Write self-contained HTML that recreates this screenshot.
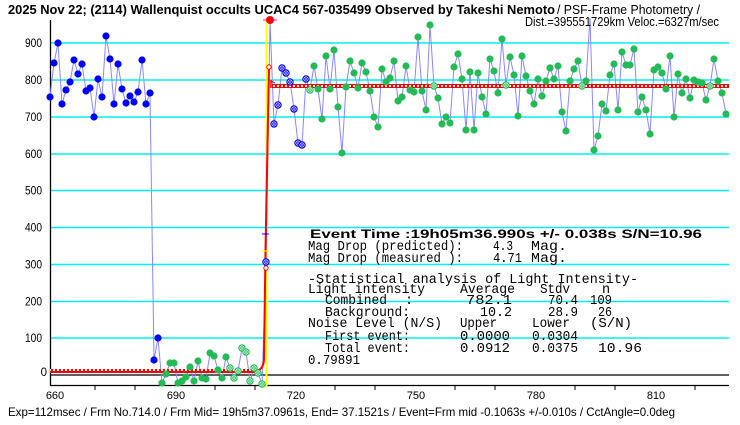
<!DOCTYPE html>
<html><head><meta charset="utf-8"><style>
html,body{margin:0;padding:0;background:#fff;}
svg{display:block;}
text{font-family:"Liberation Sans",sans-serif;fill:#000;}
.m text{font-family:"Liberation Mono",monospace;font-size:13.5px;}
</style></head><body>
<svg width="740" height="425" viewBox="0 0 740 425" xmlns="http://www.w3.org/2000/svg" xmlns:xlink="http://www.w3.org/1999/xlink">
<defs>
<pattern id="chk" x="0" y="0" width="4" height="4" patternUnits="userSpaceOnUse">
<rect width="4" height="4" fill="#ff0000"/>
<rect x="1" y="1" width="2" height="2" fill="#ffffff"/>
</pattern>
<g id="bf"><circle r="3.6" fill="#0000ff"/></g>
<g id="gf"><circle r="3.6" fill="#22bb55"/></g>
<g id="bh"><circle r="3.1" fill="#fff" stroke="#0000ff" stroke-width="1.2"/><circle r="1.3" fill="none" stroke="#0000ff" stroke-width="1"/></g>
<g id="gh"><circle r="3.1" fill="#fff" stroke="#22bb55" stroke-width="1.2"/><circle r="1.3" fill="none" stroke="#22bb55" stroke-width="1"/></g>
</defs>
<rect width="740" height="425" fill="#fff"/>

<!-- gridlines -->
<g stroke="#00f0f0" stroke-width="1.5">
<line x1="50" y1="43" x2="729" y2="43"/>
<line x1="50" y1="80" x2="729" y2="80"/>
<line x1="50" y1="117" x2="729" y2="117"/>
<line x1="50" y1="154" x2="729" y2="154"/>
<line x1="50" y1="190.5" x2="729" y2="190.5"/>
<line x1="50" y1="227.5" x2="729" y2="227.5"/>
<line x1="50" y1="264.5" x2="729" y2="264.5"/>
<line x1="50" y1="301.5" x2="729" y2="301.5"/>
<line x1="50" y1="338" x2="729" y2="338"/>
</g>

<!-- axes -->
<g stroke="#000" stroke-width="1.3">
<line x1="50.5" y1="20" x2="50.5" y2="385.5"/>
<line x1="50" y1="375" x2="729" y2="375"/>
<line x1="50" y1="385.5" x2="729" y2="385.5"/>
</g>
<g stroke="#000" stroke-width="1">
<line x1="95" y1="385" x2="95" y2="390"/><line x1="135" y1="385" x2="135" y2="390"/>
<line x1="215" y1="385" x2="215" y2="390"/><line x1="255" y1="385" x2="255" y2="390"/>
<line x1="335" y1="385" x2="335" y2="390"/><line x1="375" y1="385" x2="375" y2="390"/>
<line x1="455" y1="385" x2="455" y2="390"/><line x1="495" y1="385" x2="495" y2="390"/>
<line x1="575" y1="385" x2="575" y2="390"/><line x1="615" y1="385" x2="615" y2="390"/>
<line x1="695" y1="385" x2="695" y2="390"/>
</g>

<!-- y labels -->
<g font-size="11.5" text-anchor="end">
<text x="42" y="47" textLength="17" lengthAdjust="spacingAndGlyphs">900</text>
<text x="42" y="84" textLength="17" lengthAdjust="spacingAndGlyphs">800</text>
<text x="42" y="121" textLength="17" lengthAdjust="spacingAndGlyphs">700</text>
<text x="42" y="158" textLength="17" lengthAdjust="spacingAndGlyphs">600</text>
<text x="42" y="194.5" textLength="17" lengthAdjust="spacingAndGlyphs">500</text>
<text x="42" y="231.5" textLength="17" lengthAdjust="spacingAndGlyphs">400</text>
<text x="42" y="268.5" textLength="17" lengthAdjust="spacingAndGlyphs">300</text>
<text x="42" y="305.5" textLength="17" lengthAdjust="spacingAndGlyphs">200</text>
<text x="42" y="342" textLength="17" lengthAdjust="spacingAndGlyphs">100</text>
<text x="47" y="376">0</text>
</g>
<!-- x labels -->
<g font-size="11" text-anchor="middle">
<text x="55" y="399">660</text>
<text x="176" y="399">690</text>
<text x="296" y="399">720</text>
<text x="416" y="399">750</text>
<text x="536" y="399">780</text>
<text x="656" y="399">810</text>
</g>

<!-- text box -->
<text x="310" y="238" font-weight="bold" font-size="12" textLength="392" lengthAdjust="spacingAndGlyphs">Event Time :19h05m36.990s  +/- 0.038s  S/N=10.96</text>
<g class="m">
<text x="308" y="250" textLength="155" lengthAdjust="spacingAndGlyphs">Mag Drop (predicted):</text>
<text x="493" y="250" textLength="20" lengthAdjust="spacingAndGlyphs">4.3</text>
<text x="531" y="250" textLength="36" lengthAdjust="spacingAndGlyphs">Mag.</text>
<text x="308" y="262" textLength="155" lengthAdjust="spacingAndGlyphs">Mag Drop (measured ):</text>
<text x="493" y="262" textLength="29" lengthAdjust="spacingAndGlyphs">4.71</text>
<text x="531" y="262" textLength="36" lengthAdjust="spacingAndGlyphs">Mag.</text>
<text x="308" y="283" textLength="330" lengthAdjust="spacingAndGlyphs">-Statistical analysis of Light Intensity-</text>
<text x="308" y="293" textLength="117" lengthAdjust="spacingAndGlyphs">Light intensity</text>
<text x="460" y="293" textLength="55" lengthAdjust="spacingAndGlyphs">Average</text>
<text x="540" y="293" textLength="30" lengthAdjust="spacingAndGlyphs">Stdv</text>
<text x="602" y="293">n</text>
<text x="325" y="304" textLength="62" lengthAdjust="spacingAndGlyphs">Combined</text>
<text x="405" y="304">:</text>
<text x="466" y="304" textLength="46" lengthAdjust="spacingAndGlyphs">782.1</text>
<text x="548" y="304" textLength="30" lengthAdjust="spacingAndGlyphs">70.4</text>
<text x="590" y="304" textLength="22" lengthAdjust="spacingAndGlyphs">109</text>
<text x="325" y="316" textLength="85" lengthAdjust="spacingAndGlyphs">Background:</text>
<text x="480" y="316" textLength="32" lengthAdjust="spacingAndGlyphs">10.2</text>
<text x="548" y="316" textLength="30" lengthAdjust="spacingAndGlyphs">28.9</text>
<text x="598" y="316" textLength="14" lengthAdjust="spacingAndGlyphs">26</text>
<text x="308" y="327" textLength="134" lengthAdjust="spacingAndGlyphs">Noise Level (N/S)</text>
<text x="460" y="327" textLength="37" lengthAdjust="spacingAndGlyphs">Upper</text>
<text x="532" y="327" textLength="38" lengthAdjust="spacingAndGlyphs">Lower</text>
<text x="590" y="327" textLength="42" lengthAdjust="spacingAndGlyphs">(S/N)</text>
<text x="325" y="340" textLength="85" lengthAdjust="spacingAndGlyphs">First event:</text>
<text x="460" y="340" textLength="50" lengthAdjust="spacingAndGlyphs">0.0000</text>
<text x="532" y="340" textLength="46" lengthAdjust="spacingAndGlyphs">0.0304</text>
<text x="325" y="352" textLength="85" lengthAdjust="spacingAndGlyphs">Total event:</text>
<text x="460" y="352" textLength="50" lengthAdjust="spacingAndGlyphs">0.0912</text>
<text x="532" y="352" textLength="46" lengthAdjust="spacingAndGlyphs">0.0375</text>
<text x="598" y="352" textLength="44" lengthAdjust="spacingAndGlyphs">10.96</text>
<text x="308" y="364" textLength="52" lengthAdjust="spacingAndGlyphs">0.79891</text>
</g>

<!-- yellow event line -->
<line x1="266.5" y1="20" x2="266.5" y2="387" stroke="#ffff00" stroke-width="2"/>

<!-- data line -->
<polyline fill="none" stroke="#8888ff" stroke-width="1" points="50,97 54,63 58,43 62,104 66,90 70,82 74,60 78,74 82,64 86,91 90,88 94,117 98,79 102,97 106,36 110,59 114,104 118,64 122,89 126,103 130,96 134,102 138,92 142,60 146,104 150,93 154,360 158,338 162,383 166,374 170,363 174,363 178,383 182,381 186,377 190,367 194,381 198,361 202,378 206,379 210,353 214,356 218,370 222,378 226,357 230,368 234,378 238,371 242,348 246,352 250,381 254,368 258,373 262,384 266,262 270,20 274,124 278,105 282,68 286,73 290,82 294,109 298,143 302,145 306,79 310,90 314,66 318,89 322,119 326,56 330,89 334,50 338,107 342,153 346,87 350,61 354,73 358,88 362,63 366,72 370,91 374,117 378,127 382,69 386,82 390,78 394,61 398,101 402,97 406,66 410,90 414,92 418,37 422,91 426,110 430,25 434,86 438,98 442,124 446,117 450,123 454,67 458,54 462,79 466,130 470,72 474,130 478,73 482,97 486,114 490,59 494,71 498,93 502,39 506,85 510,57 514,75 518,116 522,56 526,76 530,91 534,104 538,79 542,96 546,81 550,68 554,79 558,66 562,112 566,131 570,81 574,69 578,61 582,86 586,81 590,18 594,150 598,136 602,104 606,111 610,75 614,64 618,110 622,52 626,65 630,65 634,49 638,112 642,97 646,110 650,134 654,70 658,67 662,73 666,89 670,56 674,117 678,74 682,93 686,79 690,98 694,80 698,82 702,83 706,100 710,86 714,59 718,81 722,93 726,114"/>

<!-- red model -->
<rect x="50" y="369" width="210" height="4" fill="url(#chk)"/>
<rect x="272" y="84" width="457" height="4" fill="url(#chk)"/>
<path d="M256,371 Q263,370 264,360 L265.5,250 L269,67" fill="none" stroke="#ff0000" stroke-width="2"/>
<line x1="271" y1="80" x2="271" y2="88" stroke="#ff0000" stroke-width="1.5"/>
<line x1="271" y1="81" x2="275" y2="83" stroke="#ff0000" stroke-width="1"/>
<line x1="263" y1="20" x2="277" y2="20" stroke="#ff00ff" stroke-width="1"/>
<line x1="262" y1="234" x2="269" y2="234" stroke="#0000ff" stroke-width="1"/>
<line x1="262" y1="251" x2="269" y2="251" stroke="#ffff00" stroke-width="1"/>

<!-- markers -->
<g>
<use href="#bf" x="50" y="97"/><use href="#bf" x="54" y="63"/><use href="#bf" x="58" y="43"/><use href="#bf" x="62" y="104"/>
<use href="#bf" x="66" y="90"/><use href="#bf" x="70" y="82"/><use href="#bf" x="74" y="60"/><use href="#bf" x="78" y="74"/>
<use href="#bf" x="82" y="64"/><use href="#bf" x="86" y="91"/><use href="#bf" x="90" y="88"/><use href="#bf" x="94" y="117"/>
<use href="#bf" x="98" y="79"/><use href="#bf" x="102" y="97"/><use href="#bf" x="106" y="36"/><use href="#bf" x="110" y="59"/>
<use href="#bf" x="114" y="104"/><use href="#bf" x="118" y="64"/><use href="#bf" x="122" y="89"/><use href="#bf" x="126" y="103"/>
<use href="#bf" x="130" y="96"/><use href="#bf" x="134" y="102"/><use href="#bf" x="138" y="92"/><use href="#bf" x="142" y="60"/>
<use href="#bf" x="146" y="104"/><use href="#bf" x="150" y="93"/><use href="#bf" x="154" y="360"/><use href="#bf" x="158" y="338"/>

<use href="#gf" x="162" y="383"/><use href="#gf" x="166" y="374"/><use href="#gf" x="170" y="363"/><use href="#gf" x="174" y="363"/>
<use href="#gf" x="178" y="383"/><use href="#gf" x="182" y="381"/><use href="#gf" x="186" y="377"/><use href="#gf" x="190" y="367"/>
<use href="#gf" x="194" y="381"/><use href="#gf" x="198" y="361"/><use href="#gf" x="202" y="378"/><use href="#gf" x="206" y="379"/>
<use href="#gf" x="210" y="353"/><use href="#gf" x="214" y="356"/><use href="#gf" x="218" y="370"/><use href="#gf" x="222" y="378"/>
<use href="#gf" x="226" y="357"/>
<use href="#gh" x="230" y="368"/><use href="#gh" x="234" y="378"/><use href="#gh" x="238" y="371"/><use href="#gh" x="242" y="348"/>
<use href="#gh" x="246" y="352"/><use href="#gh" x="250" y="381"/><use href="#gh" x="254" y="368"/><use href="#gh" x="258" y="373"/>
<use href="#gh" x="262" y="384"/>

<circle cx="266" cy="268" r="2.2" fill="#fff" stroke="#ff0000" stroke-width="1"/>
<use href="#bh" x="266" y="262"/>
<circle cx="270" cy="20" r="4" fill="#ff0000"/>
<circle cx="269" cy="67" r="2.2" fill="#fff" stroke="#ff0000" stroke-width="1"/>

<use href="#bh" x="274" y="124"/><use href="#bh" x="278" y="105"/><use href="#bh" x="282" y="68"/><use href="#bh" x="286" y="73"/>
<use href="#bh" x="290" y="82"/><use href="#bh" x="294" y="109"/><use href="#bh" x="298" y="143"/><use href="#bh" x="302" y="145"/>
<use href="#bh" x="306" y="79"/>
<use href="#gh" x="310" y="90"/>

<use href="#gf" x="314" y="66"/><use href="#gf" x="318" y="89"/><use href="#gf" x="322" y="119"/><use href="#gf" x="326" y="56"/>
<use href="#gf" x="330" y="89"/><use href="#gf" x="334" y="50"/><use href="#gf" x="338" y="107"/><use href="#gf" x="342" y="153"/>
<use href="#gf" x="346" y="87"/><use href="#gf" x="350" y="61"/><use href="#gf" x="354" y="73"/><use href="#gf" x="358" y="88"/>
<use href="#gf" x="362" y="63"/><use href="#gf" x="366" y="72"/><use href="#gf" x="370" y="91"/><use href="#gf" x="374" y="117"/>
<use href="#gf" x="378" y="127"/><use href="#gf" x="382" y="69"/><use href="#gf" x="386" y="82"/><use href="#gf" x="390" y="78"/>
<use href="#gf" x="394" y="61"/><use href="#gf" x="398" y="101"/><use href="#gf" x="402" y="97"/><use href="#gf" x="406" y="66"/>
<use href="#gf" x="410" y="90"/><use href="#gf" x="414" y="92"/><use href="#gf" x="418" y="37"/><use href="#gf" x="422" y="91"/>
<use href="#gf" x="426" y="110"/><use href="#gf" x="430" y="25"/><use href="#gh" x="434" y="86"/><use href="#gf" x="438" y="98"/>
<use href="#gf" x="442" y="124"/><use href="#gf" x="446" y="117"/><use href="#gf" x="450" y="123"/><use href="#gf" x="454" y="67"/>
<use href="#gf" x="458" y="54"/><use href="#gf" x="462" y="79"/><use href="#gf" x="466" y="130"/><use href="#gf" x="470" y="72"/>
<use href="#gf" x="474" y="130"/><use href="#gf" x="478" y="73"/><use href="#gf" x="482" y="97"/><use href="#gf" x="486" y="114"/>
<use href="#gf" x="490" y="59"/><use href="#gf" x="494" y="71"/><use href="#gf" x="498" y="93"/><use href="#gf" x="502" y="39"/>
<use href="#gh" x="506" y="85"/><use href="#gf" x="510" y="57"/><use href="#gf" x="514" y="75"/><use href="#gf" x="518" y="116"/>
<use href="#gf" x="522" y="56"/><use href="#gf" x="526" y="76"/><use href="#gf" x="530" y="91"/><use href="#gf" x="534" y="104"/>
<use href="#gf" x="538" y="79"/><use href="#gf" x="542" y="96"/><use href="#gf" x="546" y="81"/><use href="#gf" x="550" y="68"/>
<use href="#gf" x="554" y="79"/><use href="#gf" x="558" y="66"/><use href="#gf" x="562" y="112"/><use href="#gf" x="566" y="131"/>
<use href="#gf" x="570" y="81"/><use href="#gf" x="574" y="69"/><use href="#gf" x="578" y="61"/><use href="#gh" x="582" y="86"/>
<use href="#gf" x="586" y="81"/><use href="#gf" x="594" y="150"/><use href="#gf" x="598" y="136"/>
<use href="#gf" x="602" y="104"/><use href="#gf" x="606" y="111"/><use href="#gf" x="610" y="75"/><use href="#gf" x="614" y="64"/>
<use href="#gf" x="618" y="110"/><use href="#gf" x="622" y="52"/><use href="#gf" x="626" y="65"/><use href="#gf" x="630" y="65"/>
<use href="#gf" x="634" y="49"/><use href="#gf" x="638" y="112"/><use href="#gf" x="642" y="97"/><use href="#gf" x="646" y="110"/>
<use href="#gf" x="650" y="134"/><use href="#gf" x="654" y="70"/><use href="#gf" x="658" y="67"/><use href="#gf" x="662" y="73"/>
<use href="#gf" x="666" y="89"/><use href="#gf" x="670" y="56"/><use href="#gf" x="674" y="117"/><use href="#gf" x="678" y="74"/>
<use href="#gf" x="682" y="93"/><use href="#gf" x="686" y="79"/><use href="#gf" x="690" y="98"/><use href="#gf" x="694" y="80"/>
<use href="#gf" x="698" y="82"/><use href="#gf" x="702" y="83"/><use href="#gf" x="706" y="100"/><use href="#gh" x="710" y="86"/>
<use href="#gf" x="714" y="59"/><use href="#gf" x="718" y="81"/><use href="#gf" x="722" y="93"/><use href="#gf" x="726" y="114"/>
</g>

<!-- title -->
<text x="8" y="14" font-weight="bold" font-size="12.5" textLength="547" lengthAdjust="spacingAndGlyphs">2025 Nov 22; (2114) Wallenquist occults UCAC4 567-035499 Observed by Takeshi Nemoto</text>
<text x="557" y="14" font-size="12.5" textLength="143" lengthAdjust="spacingAndGlyphs">/ PSF-Frame Photometry /</text>
<text x="525" y="26" font-size="12.5" textLength="194" lengthAdjust="spacingAndGlyphs">Dist.=395551729km Veloc.=6327m/sec</text>

<!-- footer -->
<text x="8" y="416" font-size="12" textLength="667" lengthAdjust="spacingAndGlyphs">Exp=112msec / Frm No.714.0 / Frm Mid= 19h5m37.0961s,  End= 37.1521s / Event=Frm mid -0.1063s +/-0.010s / CctAngle=0.0deg</text>
</svg>
</body></html>
